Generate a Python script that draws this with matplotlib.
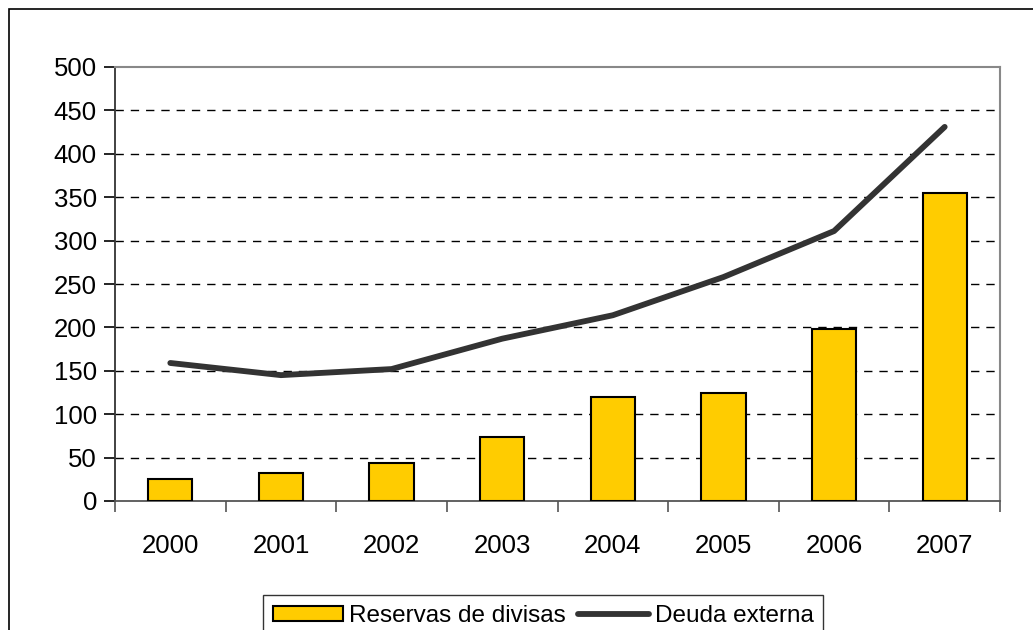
import matplotlib.pyplot as plt
import matplotlib.patches as mpatches
import numpy as np

plt.rcParams['font.family'] = ['Liberation Sans', 'DejaVu Sans']

# Datos (miles de millones)
years = ['2000', '2001', '2002', '2003', '2004', '2005', '2006', '2007']
reservas = [25, 32, 44, 74, 120, 124, 198, 355]
deuda = [159, 145, 152, 187, 214, 258, 311, 431]

fig = plt.figure(figsize=(10.33, 6.30), dpi=100)
ax = fig.add_axes([115 / 1033, 1 - 501 / 630, 885 / 1033, 434 / 630])

# marco exterior
fig.patches.append(mpatches.Rectangle((9 / 1033, -0.05), 1.1, 1 - 9 / 630 + 0.05,
                                      transform=fig.transFigure, fill=False,
                                      edgecolor='black', linewidth=1.2, clip_on=False))

x = np.arange(len(years))
bars = ax.bar(x, reservas, width=0.4, color='#FFCC00', edgecolor='black', linewidth=1.5,
              label='Reservas de divisas', zorder=3)
line, = ax.plot(x, deuda, color='#333333', linewidth=4.2, solid_capstyle='round',
                label='Deuda externa', zorder=4)

ax.set_xlim(-0.5, len(years) - 0.5)
ax.set_ylim(0, 500)
ax.set_yticks(range(0, 501, 50))
ax.tick_params(axis='y', labelsize=18.5, direction='out', length=8, width=1.2, pad=5)

ax.set_xticks(x)
ax.set_xticklabels(years)
ax.set_xticks(np.arange(-0.5, len(years), 1), minor=True)
ax.tick_params(axis='x', which='major', length=0, labelsize=18.5, pad=24)
ax.tick_params(axis='x', which='minor', direction='out', length=8, width=1.2, color='#555555')

for yv in range(50, 500, 50):
    ax.axhline(yv, color='black', linestyle=(0, (6, 5)), linewidth=1.0, zorder=1)

ax.spines['top'].set_color('#888888')
ax.spines['right'].set_color('#888888')
ax.spines['top'].set_linewidth(1.5)
ax.spines['right'].set_linewidth(1.5)
ax.spines['left'].set_color('#333333')
ax.spines['bottom'].set_color('#555555')
ax.spines['left'].set_linewidth(1.3)
ax.spines['bottom'].set_linewidth(1.3)

leg = fig.legend([bars, line], ['Reservas de divisas', 'Deuda externa'],
                 loc='upper center', bbox_to_anchor=(543 / 1033, 1 - 583 / 630),
                 ncol=2, fontsize=17.5, frameon=True, fancybox=False,
                 edgecolor='black', borderpad=0.4, handlelength=2.9,
                 handletextpad=0.25, columnspacing=0.5, handleheight=0.6)
leg.get_frame().set_linewidth(1.0)

fig.savefig('out.png', dpi=100)
